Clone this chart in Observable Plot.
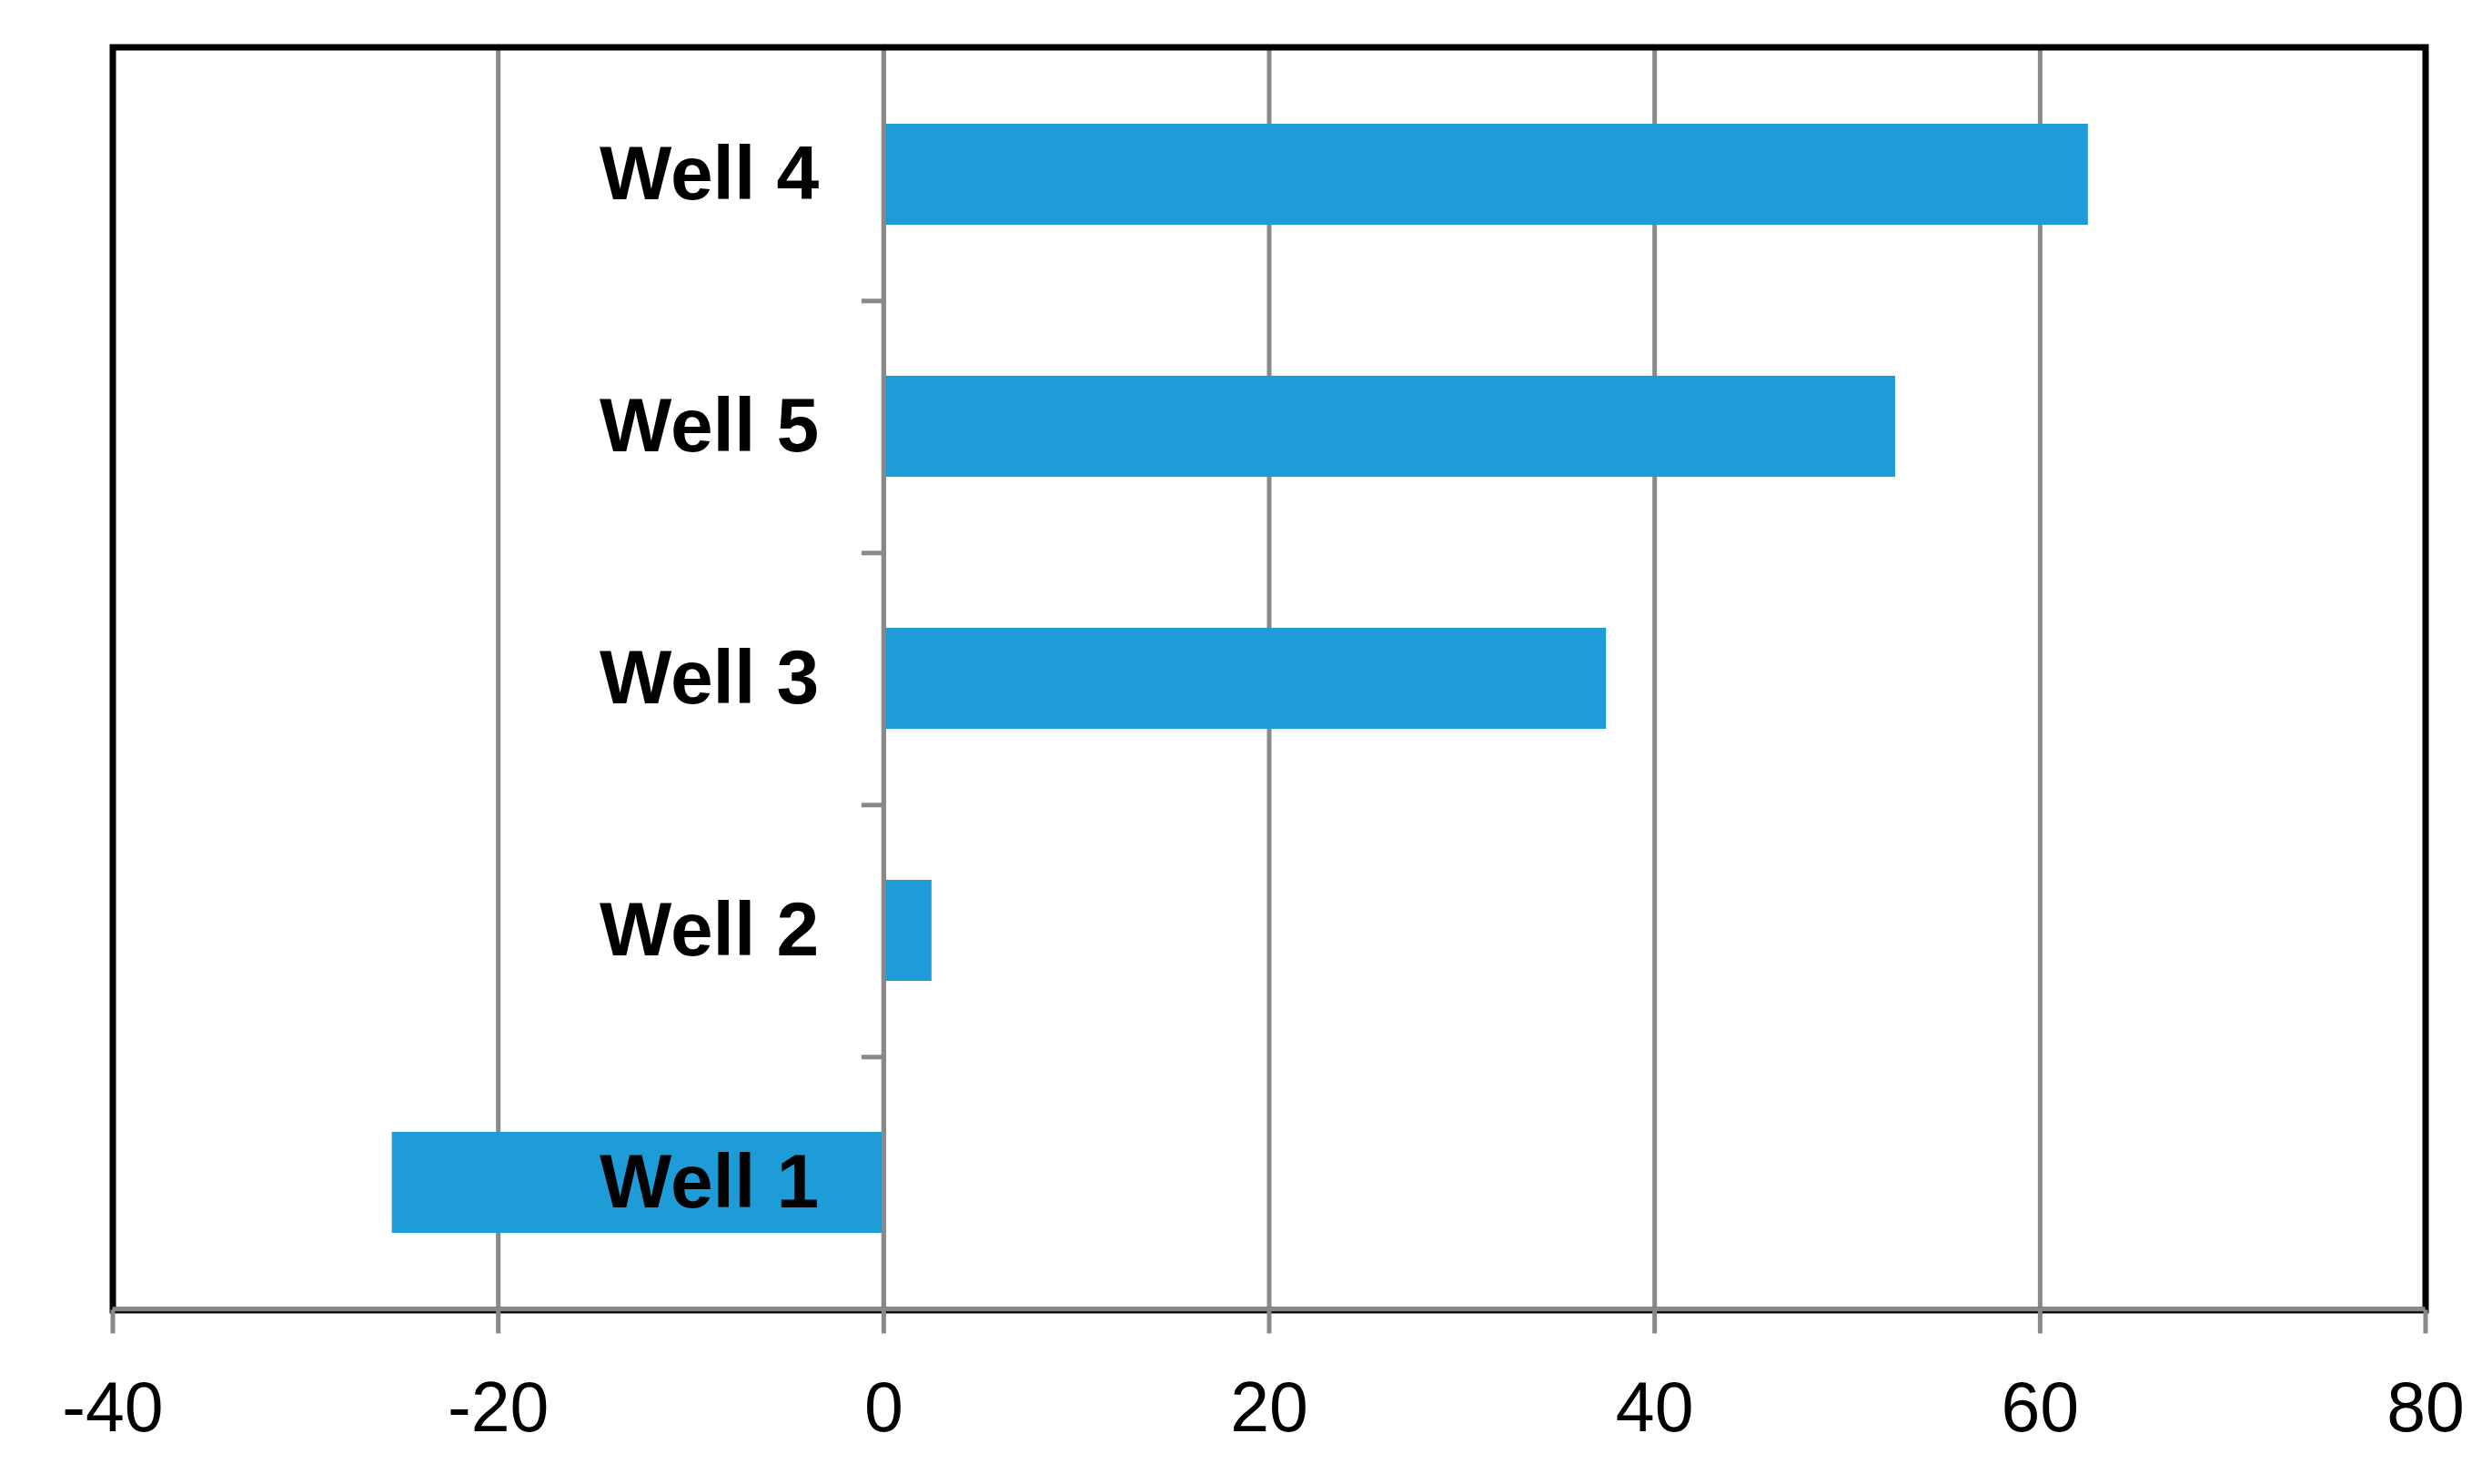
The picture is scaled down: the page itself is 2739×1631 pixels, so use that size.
<!DOCTYPE html>
<html>
<head>
<meta charset="utf-8">
<script src="https://cdn.jsdelivr.net/npm/d3@7"></script>
<script src="https://cdn.jsdelivr.net/npm/@observablehq/plot@0.6"></script>
<style>
  html, body { margin: 0; padding: 0; background: #fff; }
  #chart svg { display: block; }
</style>
</head>
<body>
<div id="chart"></div>
<script>
const wells = ["Well 4", "Well 5", "Well 3", "Well 2", "Well 1"];
const values = [62.5, 52.5, 37.5, 2.5, -25.5];
const xTicks = [-40, -20, 0, 20, 40, 60, 80];
const gridTicks = [-20, 0, 20, 40, 60];

const data = wells.map((w, i) => ({well: w, value: values[i]}));

const W = 2739, H = 1631;
const mL = 123.5, mR = 73.5, mT = 51.5, mB = 191.5;
const step = (H - mT - mB) / wells.length;
const pxPerUnit = (W - mL - mR) / (xTicks[xTicks.length - 1] - xTicks[0]);
const gray = "#898989";
const blue = "#1e9cd8";

const chart = Plot.plot({
  width: W,
  height: H,
  marginLeft: mL,
  marginRight: mR,
  marginTop: mT,
  marginBottom: mB,
  style: {fontFamily: "Liberation Sans, Arial, sans-serif", fontSize: "77px", color: "black", background: "white"},
  x: {domain: [xTicks[0], xTicks[xTicks.length - 1]], axis: null},
  y: {domain: wells, paddingInner: 0.6, paddingOuter: 0.3, axis: null},
  marks: [
    Plot.gridX(gridTicks, {stroke: gray, strokeOpacity: 1, strokeWidth: 5}),
    Plot.ruleY(wells.slice(0, wells.length - 1), {x1: -24 / pxPerUnit, x2: 0, dy: step / 2, stroke: gray, strokeWidth: 5}),
    Plot.barX(data, {x1: 0, x2: "value", y: "well", fill: blue}),
    Plot.ruleX([0], {stroke: gray, strokeWidth: 5}),
    Plot.frame({stroke: "black", strokeWidth: 7}),
    Plot.ruleY([wells[wells.length - 1]], {dy: step / 2, stroke: gray, strokeWidth: 5}),
    Plot.text(data, {x: 0, y: "well", text: "well", textAnchor: "end", dx: -71, fontSize: 84, fontWeight: "bold", fill: "black"}),
    Plot.axisX(xTicks, {
      anchor: "bottom",
      tickSize: 26,
      tickPadding: 52,
      stroke: gray,
      strokeWidth: 5,
      fill: "black",
      fontSize: 77,
      tickFormat: d => String(d),
      label: null
    })
  ]
});
document.getElementById("chart").appendChild(chart);
</script>
</body>
</html>
